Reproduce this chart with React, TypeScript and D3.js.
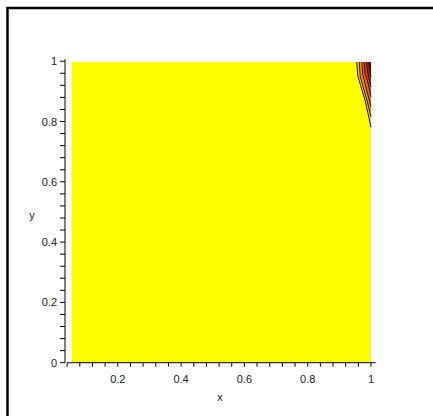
import React from "react";
import * as d3 from "d3";

// tick labels
const xTickValues = [0.2, 0.4, 0.6, 0.8, 1];
const xTickLabels = ["0.2", "0.4", "0.6", "0.8", "1"];
const yTickValues = [0, 0.2, 0.4, 0.6, 0.8, 1];
const yTickLabels = ["0", "0.2", "0.4", "0.6", "0.8", "1"];

// filled region (lowest level) and contour lines near the (1,1) corner
const fieldX = [0.055, 1];
const fieldY = [0, 0.997];
const contourLines: [number, number][][] = [
  [[0.955, 0.997], [0.958, 0.953], [0.967, 0.92], [0.981, 0.871], [1, 0.781]],
  [[0.963, 0.997], [0.966, 0.95], [0.975, 0.915], [0.988, 0.868], [1, 0.815]],
  [[0.971, 0.997], [0.974, 0.955], [0.982, 0.922], [1, 0.848]],
  [[0.978, 0.997], [0.981, 0.96], [0.99, 0.93], [1, 0.882]],
  [[0.986, 0.997], [0.989, 0.965], [1, 0.915]],
  [[0.993, 0.997], [1, 0.948]],
];
const bandColors = ["#ffcc00", "#ff9900", "#ff6600", "#e83a00", "#b81800", "#800000"];

const W = 433;
const H = 416;

export default function App() {
  const x = d3.scaleLinear().domain([0, 1]).range([54.5, 371]);
  const y = d3.scaleLinear().domain([0, 1]).range([362.7, 61.2]);
  const minor = d3.range(1, 26).map((i) => i * 0.04);
  const yMinor = d3.range(0, 26).map((i) => i * 0.04);
  const line = d3.line<[number, number]>().x((d) => x(d[0])).y((d) => y(d[1]));
  const font = "'Liberation Sans', Arial, sans-serif";

  return (
    <svg width={W} height={H} style={{ position: "absolute", left: 0, top: 0, background: "#fff" }}>
      <rect x={7.5} y={8} width={W + 20} height={H + 20} fill="#fff" stroke="#000" strokeWidth={2.5} />
      <rect
        x={x(fieldX[0])}
        y={y(fieldY[1])}
        width={x(fieldX[1]) - x(fieldX[0])}
        height={y(fieldY[0]) - y(fieldY[1])}
        fill="#ffff00"
      />
      {contourLines.map((pts, i) => (
        <path
          key={"b" + i}
          d={line([...pts, [1, fieldY[1]]] as [number, number][]) + "Z"}
          fill={bandColors[i]}
        />
      ))}
      {contourLines.map((pts, i) => (
        <path key={"l" + i} d={line(pts) || ""} fill="none" stroke="#1a1a1a" strokeWidth={1} />
      ))}
      {/* x axis */}
      <line x1={x(0.04)} x2={x(1.015)} y1={y(0)} y2={y(0)} stroke="#000" />
      {minor.map((v, i) => (
        <line key={"xt" + i} x1={x(v)} x2={x(v)} y1={y(0)} y2={y(0) + 4} stroke="#000" />
      ))}
      {xTickValues.map((v, i) => (
        <text key={"xl" + i} x={x(v)} y={y(0) + 20} textAnchor="middle" fontSize={11} fontFamily={font} fill="#222">
          {xTickLabels[i]}
        </text>
      ))}
      {/* y axis */}
      <line x1={65} x2={65} y1={y(1) - 2} y2={y(0)} stroke="#000" />
      {yMinor.map((v, i) => (
        <line key={"yt" + i} x1={60} x2={65} y1={y(v)} y2={y(v)} stroke="#000" />
      ))}
      {yTickValues.map((v, i) => (
        <text key={"yl" + i} x={57} y={y(v) + 4} textAnchor="end" fontSize={11} fontFamily={font} fill="#222">
          {yTickLabels[i]}
        </text>
      ))}
      <text x={220} y={401} textAnchor="middle" fontSize={11} fontFamily={font} fill="#222">x</text>
      <text x={32} y={219} textAnchor="middle" fontSize={11} fontFamily={font} fill="#222">y</text>
    </svg>
  );
}
